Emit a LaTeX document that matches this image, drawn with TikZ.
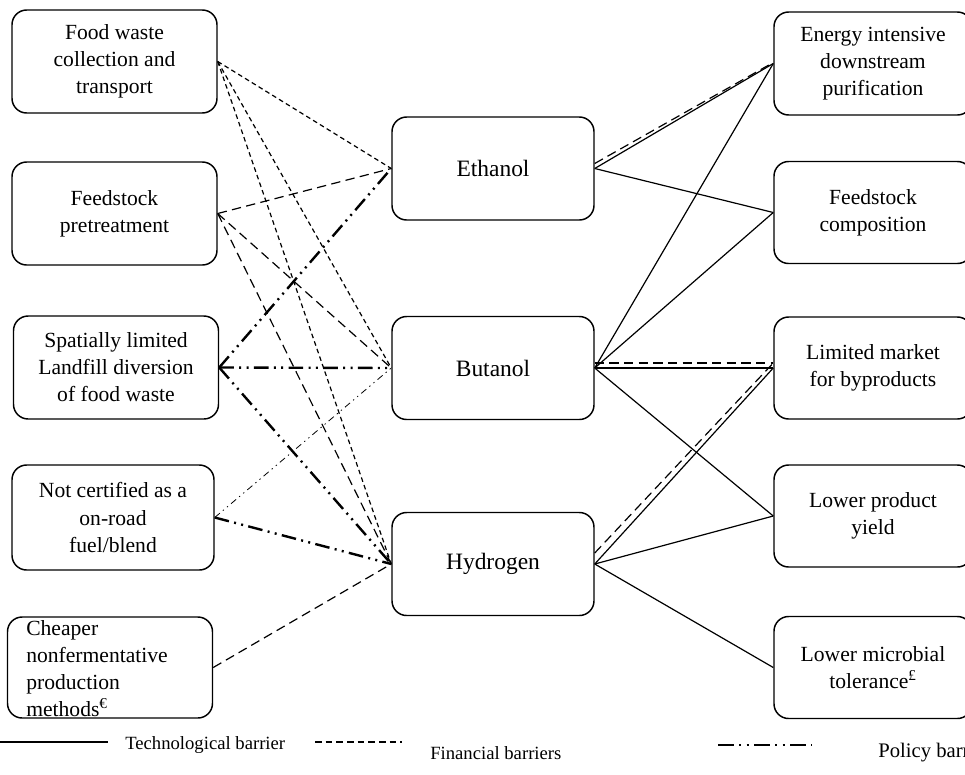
\documentclass[tikz,border=0pt]{standalone}
\usepackage{fontspec}
\setmainfont{Liberation Serif}
\newcommand\myboxfont{\fontsize{16.2}{20.3}\selectfont}
\newcommand\mymidfont{\fontsize{17.6}{20.3}\selectfont}
\newcommand\mylegfont{\fontsize{14}{16}\selectfont}
\begin{document}
\begin{tikzpicture}[x=0.75pt,y=-0.75pt,
  box/.style={draw, line width=1.1pt, rounded corners=11pt, align=center, font=\myboxfont, inner sep=2pt},
  lbox/.style={box, minimum width=153.75pt, minimum height=77.25pt},
  mbox/.style={box, font=\mymidfont, minimum width=151.5pt, minimum height=77.25pt},
  rbox/.style={box, minimum width=148.5pt, minimum height=76.5pt},
  tech/.style={line width=0.9pt},
  fin/.style={line width=0.9pt, dash pattern=on 7pt off 4pt},
  finfine/.style={line width=0.9pt, dash pattern=on 3.5pt off 2.5pt},
  pol/.style={line width=1.8pt, dash pattern=on 11pt off 4pt on 1.5pt off 4pt on 1.5pt off 4pt},
  polthin/.style={line width=0.6pt, dash pattern=on 5pt off 3pt on 1pt off 3pt on 1pt off 3pt},
  legtext/.style={font=\mylegfont, anchor=west, inner sep=0pt}
]
\useasboundingbox (0,0) rectangle (965,775);

% left column
\node[lbox] (L1) at (114.5,61.5) {Food waste\\collection and\\transport};
\node[lbox] (L2) at (114.5,213.5) {Feedstock\\pretreatment};
\node[lbox] (L3) at (116,367.5) {Spatially limited\\Landfill diversion\\of food waste};
\node[lbox, minimum width=151.5pt, minimum height=78.75pt] (L4) at (113,517.5) {Not certified as a\\on-road\\fuel/blend};
\node[lbox, minimum height=75.75pt] (L5) at (110,667.5) {};
\node[font=\myboxfont, align=left, anchor=north west, inner sep=0pt] (L5t) at (26,620) {Cheaper\\nonfermentative\\production\\methods\textsuperscript{€}};

% middle column
\node[mbox] (M1) at (493,168.5) {Ethanol};
\node[mbox] (M2) at (493,368) {Butanol};
\node[mbox] (M3) at (493,564) {Hydrogen};

% right column
\node[rbox, minimum height=77.25pt] (R1) at (873,63.5) {Energy intensive\\downstream\\purification};
\node[rbox] (R2) at (873,212.5) {Feedstock\\composition};
\node[rbox] (R3) at (873,368) {Limited market\\for byproducts};
\node[rbox] (R4) at (873,516) {Lower product\\yield};
\node[rbox] (R5) at (873,667.5) {Lower microbial\\tolerance\textsuperscript{£}};

% left connectors
\draw[finfine] (L1.east) -- (M1.west);
\draw[finfine] (L1.east) -- (M2.west);
\draw[finfine] (L1.east) -- (M3.west);
\draw[fin] (L2.east) -- (M1.west);
\draw[fin] (L2.east) -- (M2.west);
\draw[fin] (L2.east) -- (M3.west);
\draw[pol] (L3.east) -- (M1.west);
\draw[pol] (L3.east) -- (M2.west);
\draw[pol] (L3.east) -- (M3.west);
\draw[polthin] (L4.east) -- (M2.west);
\draw[pol] (L4.east) -- (M3.west);
\draw[fin] (L5.east) -- (M3.west);

% right connectors
\draw[tech] (M1.east) -- (R1.west);
\draw[fin] ([yshift=3.75pt]M1.east) -- ([yshift=0.75pt]R1.west);
\draw[tech] (M1.east) -- (R2.west);
\draw[tech] (M2.east) -- (R1.west);
\draw[tech] (M2.east) -- (R2.west);
\draw[tech] (M2.east) -- (R3.west);
\draw[fin] ([yshift=3.75pt]M2.east) -- ([yshift=3.75pt]R3.west);
\draw[tech] (M2.east) -- (R4.west);
\draw[tech] (M3.east) -- (R3.west);
\draw[fin] ([yshift=8.25pt]M3.east) -- ([yshift=3.75pt]R3.west);
\draw[tech] (M3.east) -- (R4.west);
\draw[tech] (M3.east) -- (R5.west);

% legend
\coordinate (la) at (0,742);
\coordinate (lb) at (108,742);
\coordinate (lc) at (315,742);
\coordinate (ld) at (402,742);
\coordinate (le) at (718,745);
\coordinate (lf) at (812,745);
\draw[tech] (la) -- (lb);
\draw[line width=0.9pt, dash pattern=on 5pt off 3pt] (lc) -- (ld);
\draw[line width=1.8pt, dash pattern=on 12pt off 4pt on 1.5pt off 4pt on 1.5pt off 4pt] (le) -- (lf);
\node[legtext] (t1) at (125,745) {Technological barrier};
\node[legtext] (t2) at (430,753) {Financial barriers};
\node[legtext, font=\fontsize{15.5}{17}\selectfont] (t3) at (878,753) {Policy barriers};
\end{tikzpicture}
\end{document}
